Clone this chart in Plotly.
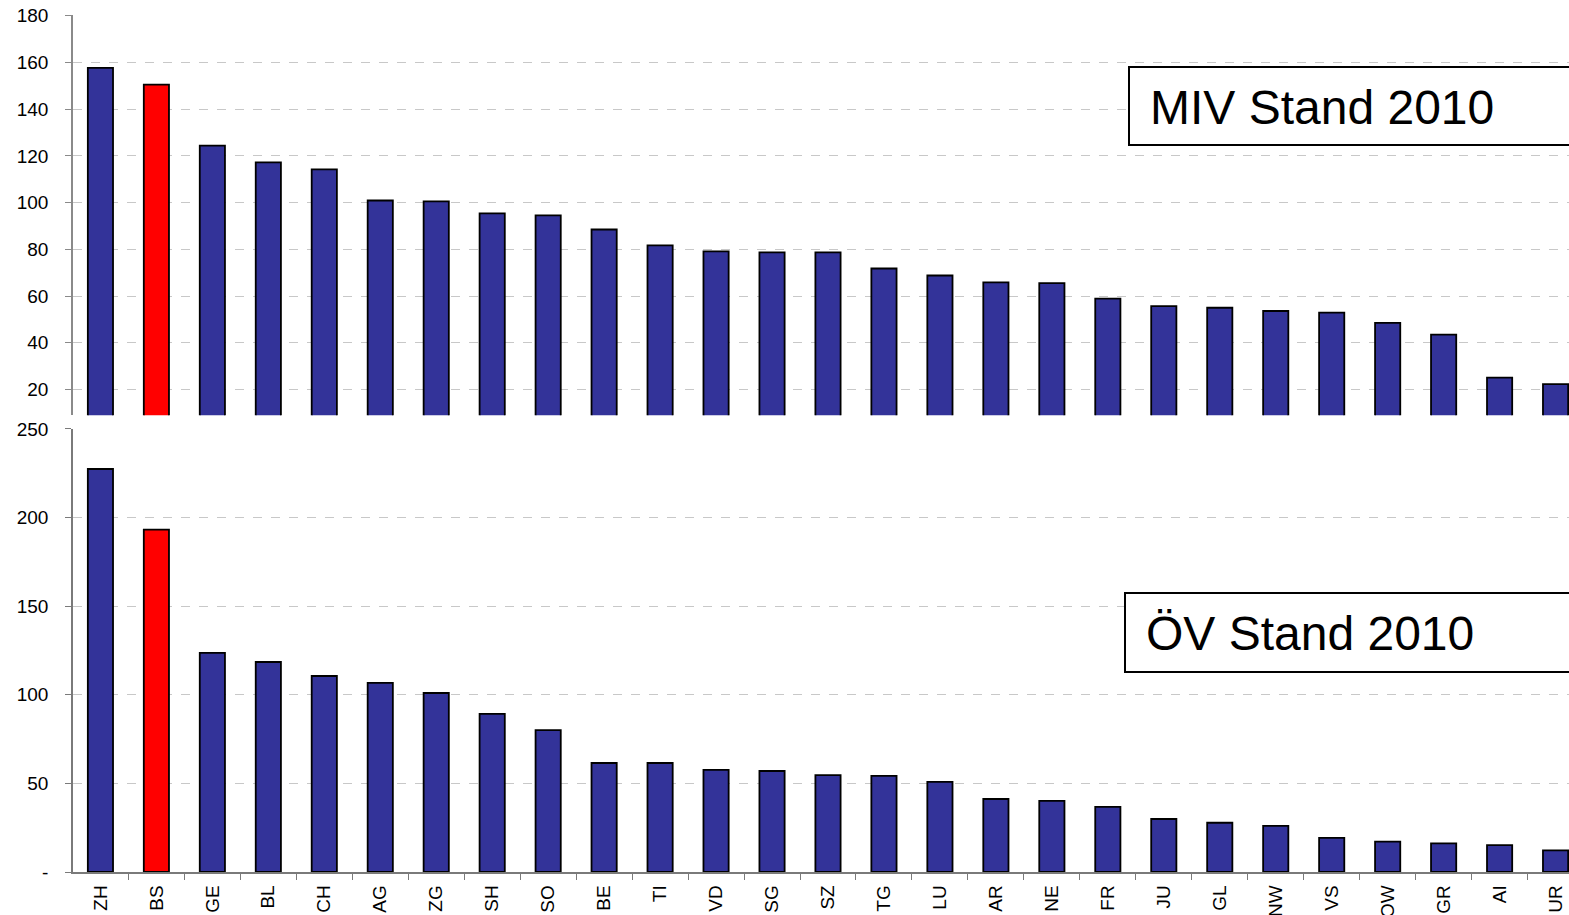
import plotly.graph_objects as go

cantons = ["ZH", "BS", "GE", "BL", "CH", "AG", "ZG", "SH", "SO", "BE", "TI", "VD", "SG", "SZ",
           "TG", "LU", "AR", "NE", "FR", "JU", "GL", "NW", "VS", "OW", "GR", "AI", "UR"]
miv_2010 = [157.7, 150.5, 124.4, 117.2, 114.2, 100.9, 100.5, 95.4, 94.5, 88.5, 81.7, 79.1, 78.7, 78.7,
            71.8, 68.8, 65.9, 65.5, 58.9, 55.7, 55.0, 53.6, 52.9, 48.5, 43.5, 25.1, 22.3]
oev_2010 = [227.4, 193.2, 123.6, 118.5, 110.6, 106.7, 101.0, 89.2, 80.1, 61.5, 61.5, 57.6, 57.0, 54.7,
            54.2, 50.8, 41.2, 40.1, 36.7, 29.9, 27.8, 26.0, 19.2, 17.1, 16.2, 15.2, 12.2]
highlight = "BS"
top_ticks = [20, 40, 60, 80, 100, 120, 140, 160, 180]
bottom_ticks = [0, 50, 100, 150, 200, 250]
bottom_ticktext = ["-", "50", "100", "150", "200", "250"]

NAVY = "#333399"
RED = "#FF0000"
colors = [RED if c == highlight else NAVY for c in cantons]
FONT = "Liberation Sans, Arial, sans-serif"

fig = go.Figure()
fig.add_trace(go.Bar(x=cantons, y=miv_2010, width=0.45, xaxis="x", yaxis="y",
                     marker=dict(color=colors, line=dict(color="black", width=1.8)),
                     showlegend=False))
fig.add_trace(go.Bar(x=cantons, y=oev_2010, width=0.45, xaxis="x2", yaxis="y2",
                     marker=dict(color=colors, line=dict(color="black", width=1.8)),
                     showlegend=False))

xr = [-0.49, 26.24]
grid = dict(showgrid=True, gridcolor="#c8c8c8", griddash="dash", gridwidth=1, zeroline=False)

fig.update_layout(
    template="none",
    width=1569, height=915,
    margin=dict(l=73, r=0, t=15, b=43, autoexpand=False),
    paper_bgcolor="white", plot_bgcolor="rgba(0,0,0,0)",
    font=dict(family=FONT, size=19, color="black"),
    xaxis=dict(domain=[0, 1], anchor="y", range=xr, showticklabels=False, showline=False,
               ticks="", showgrid=False, zeroline=False, automargin=False,
               categoryorder="array", categoryarray=cantons),
    yaxis=dict(domain=[0.533, 1], anchor="x", range=[9.0, 180.3], tickvals=top_ticks,
               showline=True, linecolor="#8a8a8a", linewidth=1.5, ticks="outside", ticklen=6,
               tickcolor="#8a8a8a", ticklabelstandoff=13, automargin=False,
               ticklabeloverflow="allow", tickfont=dict(size=19, family=FONT), **grid),
    xaxis2=dict(domain=[0, 1], anchor="y2", range=xr, showline=True, linecolor="#7a7a7a", linewidth=1.5,
                ticks="outside", tickson="boundaries", ticklen=6, tickcolor="#7a7a7a",
                tickangle=-90, ticklabelstandoff=4, tickfont=dict(size=19, family=FONT),
                ticklabeloverflow="allow",
                showgrid=False, zeroline=False, automargin=False,
                categoryorder="array", categoryarray=cantons),
    yaxis2=dict(domain=[0, 0.517], anchor="x2", range=[0, 250.01], tickvals=bottom_ticks,
                ticktext=bottom_ticktext, showline=True, linecolor="#7a7a7a", linewidth=1.5,
                ticks="outside", ticklen=6, tickcolor="#7a7a7a", ticklabelstandoff=13,
                ticklabeloverflow="allow",
                automargin=False, tickfont=dict(size=19, family=FONT), **grid),
)

# Label boxes (extend beyond the right edge like the original)
fig.add_shape(type="rect", xref="paper", yref="paper", x0=(1129 - 73) / 1496, x1=1.05,
              y0=(872 - 145) / 857, y1=(872 - 67) / 857,
              line=dict(color="black", width=2), fillcolor="white", layer="above")
fig.add_shape(type="rect", xref="paper", yref="paper", x0=(1125 - 73) / 1496, x1=1.05,
              y0=(872 - 672) / 857, y1=(872 - 593) / 857,
              line=dict(color="black", width=2), fillcolor="white", layer="above")
fig.add_annotation(xref="paper", yref="paper", x=(1148 - 73) / 1496, y=(872 - 107) / 857,
                   xanchor="left", yanchor="middle", text="MIV Stand 2010", showarrow=False,
                   font=dict(size=48, family=FONT, color="black"))
fig.add_annotation(xref="paper", yref="paper", x=(1144 - 73) / 1496, y=(872 - 633) / 857,
                   xanchor="left", yanchor="middle", text="ÖV Stand 2010", showarrow=False,
                   font=dict(size=48, family=FONT, color="black"))

fig.write_html("out.html", config={"displayModeBar": False},
               post_script="document.body.style.margin='0';")
